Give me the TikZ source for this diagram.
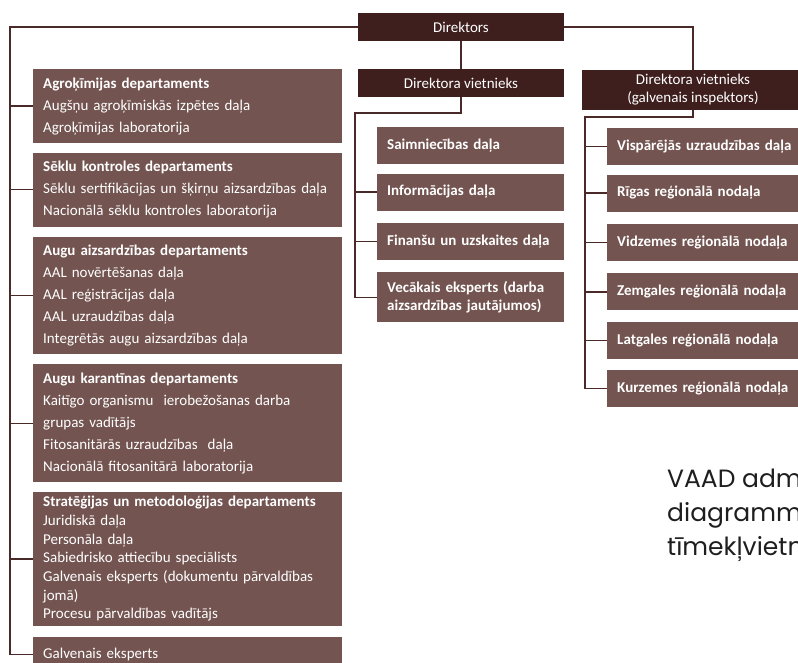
\documentclass[tikz,border=0pt]{standalone}
\usepackage{fontspec}
\setmainfont{Carlito}
\newfontfamily\notefont{Poppins}
\usetikzlibrary{positioning}
\definecolor{darkbox}{HTML}{3E1F1E}
\definecolor{lightbox}{HTML}{735450}
\definecolor{linkline}{HTML}{4A2A29}
\definecolor{notetext}{HTML}{1E1E1E}

\begin{document}
\begin{tikzpicture}[x=1pt, y=-1pt,
  head/.style={fill=darkbox, text=white, align=center, inner sep=0pt, font=\fontsize{15}{18}\selectfont},
  unit/.style={fill=lightbox, text=white, align=left, inner xsep=10pt, inner ysep=0pt, anchor=north west},
  dept/.style={unit, text width=289pt, minimum height=#1, font=\fontsize{15}{22}\selectfont},
  mid/.style={unit, text width=167pt, minimum height=37pt, font=\bfseries\fontsize{15}{18}\selectfont},
  reg/.style={unit, text width=180pt, minimum height=37pt, font=\bfseries\fontsize{15}{18}\selectfont},
  link/.style={draw=linkline, line width=1.4pt}]
\useasboundingbox (0,0) rectangle (798,663);
\clip (0,0) rectangle (798,663);
% vadiba
\node (1)[head, minimum width=206pt, minimum height=28pt] at (461,27) {Direktors};
\node (2)[head, minimum width=206pt, minimum height=28pt] at (461,83) {Direktora vietnieks};
\node (3)[head, minimum width=222pt, minimum height=40pt] at (693,90) {Direktora vietnieks\\(galvenais inspektors)};
% departamenti
\node (4)[dept=74pt] at (33,69) {\textbf{Agroķīmijas departaments}\\Augšņu agroķīmiskās izpētes daļa\\Agroķīmijas laboratorija};
\node (5)[dept=74pt, below=9pt of 4.south west, anchor=north west] {\textbf{Sēklu kontroles departaments}\\Sēklu sertifikācijas un šķirņu aizsardzības daļa\\Nacionālā sēklu kontroles laboratorija};
\node (6)[dept=117pt, below=10pt of 5.south west, anchor=north west] {\textbf{Augu aizsardzības departaments}\\AAL novērtēšanas daļa\\AAL reģistrācijas daļa\\AAL uzraudzības daļa\\Integrētās augu aizsardzības daļa};
\node (7)[dept=118pt, below=10pt of 6.south west, anchor=north west] {\textbf{Augu karantīnas departaments}\\Kaitīgo organismu\ \ ierobežošanas darba\\grupas vadītājs\\Fitosanitārās uzraudzības\ \ daļa\\Nacionālā fitosanitārā laboratorija};
\node (8)[dept=134pt, below=9pt of 7.south west, anchor=north west, font=\fontsize{15}{18.7}\selectfont] {\textbf{Stratēģijas un metodoloģijas departaments}\\Juridiskā daļa\\Personāla daļa\\Sabiedrisko attiecību speciālists\\Galvenais eksperts (dokumentu pārvaldības\\jomā)\\Procesu pārvaldības vadītājs};
\node (9)[dept=34pt, below=11pt of 8.south west, anchor=north west] {Galvenais eksperts};
% vietnieka dalas
\node (10)[mid] at (377,127) {Saimniecības daļa};
\node (11)[mid, below=9pt of 10.south west, anchor=north west] {Informācijas daļa};
\node (12)[mid, below=12pt of 11.south west, anchor=north west] {Finanšu un uzskaites daļa};
\node (13)[mid, minimum height=50pt, below=12pt of 12.south west, anchor=north west] {Vecākais eksperts (darba\\aizsardzības jautājumos)};
% inspekcijas dalas
\node (14)[reg] at (607,128) {Vispārējās uzraudzības daļa};
\node (15)[reg, below=9pt of 14.south west, anchor=north west] {Rīgas reģionālā nodaļa};
\node (16)[reg, below=12pt of 15.south west, anchor=north west] {Vidzemes reģionālā nodaļa};
\node (17)[reg, below=12pt of 16.south west, anchor=north west] {Zemgales reģionālā nodaļa};
\node (18)[reg, below=11pt of 17.south west, anchor=north west] {Latgales reģionālā nodaļa};
\node (19)[reg, below=11pt of 18.south west, anchor=north west] {Kurzemes reģionālā nodaļa};
\node (20)[anchor=north west, inner sep=0pt, align=left, text=notetext, font=\notefont\fontsize{25}{34}\selectfont] at (667,468) {VAAD administratīvās\\diagramma\\tīmekļvietnē};
\coordinate (b1) at (10,27);
\coordinate (b2) at (355,113);
\coordinate (b3) at (585,117);
\path[link] (1.west) -- (b1) |- (9.west)
  (b1 |- 4.west) -- (4.west)
  (b1 |- 5.west) -- (5.west)
  (b1 |- 6.west) -- (6.west)
  (b1 |- 7.west) -- (7.west)
  (b1 |- 8.west) -- (8.west)
  (1.south) -- (2.north)
  (1.east) -| (3.north)
  (2.south) |- (b2) |- (13.west)
  (b2 |- 11.west) -- (11.west)
  (b2 |- 12.west) -- (12.west)
  (3.south) |- (b3) |- (19.west)
  (b3 |- 14.west) -- (14.west)
  (b3 |- 15.west) -- (15.west)
  (b3 |- 16.west) -- (16.west)
  (b3 |- 17.west) -- (17.west)
  (b3 |- 18.west) -- (18.west);
\end{tikzpicture}
\end{document}
